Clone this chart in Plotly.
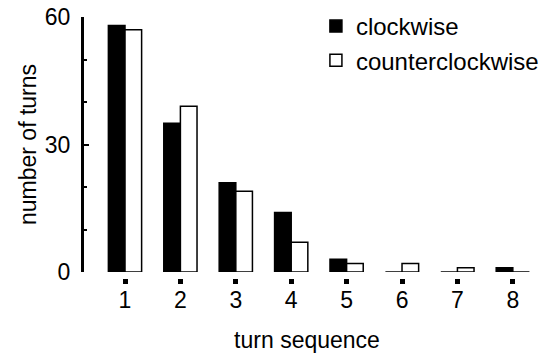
import plotly.graph_objects as go

turn_sequence = [1, 2, 3, 4, 5, 6, 7, 8]
tick_labels = ["1", "2", "3", "4", "5", "6", "7", "8"]
clockwise = [58, 35, 21, 14, 3, 0, 0, 1]
counterclockwise = [57, 39, 19, 7, 2, 2, 1, 0]

FONT = "Liberation Sans, Arial, Helvetica, sans-serif"
W, H = 541, 355
ml, mr, mt, mb = 84, 11, 17, 77
plot_h = H - mt - mb
ydom0 = 6 / plot_h

fig = go.Figure()
fig.add_trace(go.Bar(
    x=turn_sequence, y=clockwise, name="clockwise",
    marker=dict(color="black", line=dict(color="black", width=1.5)),
))
fig.add_trace(go.Bar(
    x=turn_sequence, y=counterclockwise, name="counterclockwise",
    marker=dict(color="white", line=dict(color="black", width=1.5)),
))

fig.update_layout(
    width=W, height=H,
    margin=dict(l=ml, r=mr, t=mt, b=mb, pad=0, autoexpand=False),
    paper_bgcolor="white", plot_bgcolor="white",
    font=dict(family=FONT, size=23, color="black"),
    barmode="group", bargap=0.4, bargroupgap=0,
    showlegend=True,
    legend=dict(
        x=0.52, y=1.05, xanchor="left", yanchor="top",
        bgcolor="rgba(0,0,0,0)", font=dict(size=24),
        itemclick=False,
    ),
    xaxis=dict(
        range=[0.26, 8.31],
        tickmode="array", tickvals=turn_sequence, ticktext=tick_labels,
        anchor="free", position=0,
        showline=False, showgrid=False, zeroline=False,
        ticks="outside", ticklen=5, tickwidth=5, tickcolor="black",
        tickfont=dict(size=23),
        ticklabelstandoff=-4,
        title=dict(text="turn sequence", font=dict(size=23), standoff=20),
    ),
    yaxis=dict(
        domain=[ydom0, 1],
        range=[0, 60],
        tickmode="array", tickvals=[0, 30, 60], ticktext=["0", "30", "60"],
        showline=True, linecolor="black", linewidth=3,
        showgrid=False, zeroline=False,
        ticks="inside", ticklen=5, tickwidth=2, tickcolor="black",
        minor=dict(tickvals=[10, 20, 40, 50], ticks="inside", ticklen=3,
                   tickwidth=1.5, tickcolor="black", showgrid=False),
        tickfont=dict(size=23),
        ticklabelstandoff=6,
        title=dict(text="number of turns", font=dict(size=23), standoff=2),
    ),
)

fig.write_html("out.html")
